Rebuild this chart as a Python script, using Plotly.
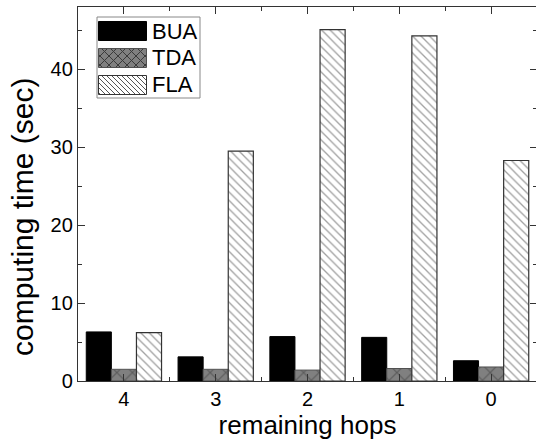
import plotly.graph_objects as go

# ---- data ----
hops = ["4", "3", "2", "1", "0"]
series_names = ["BUA", "TDA", "FLA"]
bua = [6.3, 3.1, 5.7, 5.6, 2.6]
tda = [1.5, 1.5, 1.4, 1.6, 1.8]
fla = [6.2, 29.5, 45.1, 44.3, 28.3]
y_ticks = [0, 10, 20, 30, 40]

# ---- layout geometry ----
# figure is 1px wider than the window so that the right frame line falls
# just outside the visible area, as in the reference
W, H = 537, 440
ML, MR, MT, MB = 78, 0, 7, 59
PW, PH = W - ML - MR, H - MT - MB
FONT = "Liberation Sans, Arial, sans-serif"


def px(x):
    return (x - ML) / PW


def py(y):
    return (H - MB - y) / PH


x_idx = list(range(len(hops)))

styles = {
    "BUA": dict(color="black", line=dict(color="black", width=1)),
    "TDA": dict(color="#808080", line=dict(color="#505050", width=1),
                pattern=dict(shape="x", size=11, solidity=0.2,
                             fgcolor="#333333", bgcolor="#808080")),
    "FLA": dict(color="white", line=dict(color="#333333", width=1.2),
                pattern=dict(shape="\\", size=6, solidity=0.22,
                             fgcolor="#444444", bgcolor="white")),
}

fig = go.Figure()
for name, vals in zip(series_names, [bua, tda, fla]):
    fig.add_trace(go.Bar(x=x_idx, y=vals, name=name, marker=styles[name],
                         showlegend=False))


def hatch(x0, y0, x1, y1, spacing, direction):
    segs = []
    if direction == "\\":
        c = y0 - x1
        while c <= y1 - x0:
            a = max(x0, y0 - c)
            b = min(x1, y1 - c)
            if b > a:
                segs.append(f"M{px(a)},{py(a + c)}L{px(b)},{py(b + c)}")
            c += spacing
    else:
        c = x0 + y0
        while c <= x1 + y1:
            a = max(x0, c - y1)
            b = min(x1, c - y0)
            if b > a:
                segs.append(f"M{px(a)},{py(c - a)}L{px(b)},{py(c - b)}")
            c += spacing
    return "".join(segs)


shapes = []
# legend box
shapes.append(dict(type="rect", xref="paper", yref="paper",
                   x0=px(97), x1=px(200), y0=py(98), y1=py(17),
                   line=dict(color="#888888", width=1), fillcolor="white"))
sw_x0, sw_x1 = 98.5, 146.5
sw_tops = [21.5, 48.5, 75.5]
sw_h = 19
annotations = []
for name, top in zip(series_names, sw_tops):
    bot = top + sw_h
    st = styles[name]
    shapes.append(dict(type="rect", xref="paper", yref="paper",
                       x0=px(sw_x0), x1=px(sw_x1), y0=py(bot), y1=py(top),
                       fillcolor=st["color"], line=dict(width=0)))
    if name == "TDA":
        for d in ["\\", "/"]:
            shapes.append(dict(type="path", xref="paper", yref="paper",
                               path=hatch(sw_x0, top, sw_x1, bot, 9, d),
                               line=dict(color="#3a3a3a", width=1)))
    if name == "FLA":
        shapes.append(dict(type="path", xref="paper", yref="paper",
                           path=hatch(sw_x0, top, sw_x1, bot, 5, "\\"),
                           line=dict(color="#555555", width=1)))
    shapes.append(dict(type="rect", xref="paper", yref="paper",
                       x0=px(sw_x0), x1=px(sw_x1), y0=py(bot), y1=py(top),
                       line=dict(color=st["line"]["color"], width=1)))
    annotations.append(dict(text=name, xref="paper", yref="paper",
                            x=px(150), y=py((top + bot) / 2),
                            xanchor="left", yanchor="middle", showarrow=False,
                            font=dict(family=FONT, size=22, color="black")))

annotations.append(dict(text="computing time (sec)", xref="paper", yref="paper",
                        x=px(22), y=py(217), textangle=-90,
                        xanchor="center", yanchor="middle", showarrow=False,
                        font=dict(family=FONT, size=30, color="black")))

fig.update_layout(
    width=W, height=H, autosize=False,
    margin=dict(l=ML, r=MR, t=MT, b=MB, pad=0),
    paper_bgcolor="white", plot_bgcolor="white",
    barmode="group", bargap=0.18, bargroupgap=0,
    font=dict(family=FONT, color="black"),
    shapes=shapes, annotations=annotations,
    showlegend=False,
)
fig.update_xaxes(
    range=[-0.5, 4.5], tickmode="array", tickvals=x_idx, ticktext=hops,
    ticks="inside", ticklen=7, tickwidth=1.3, tickcolor="#333",
    minor=dict(tickmode="linear", tick0=0.5, dtick=1, ticks="inside",
               ticklen=4, tickwidth=1.3, tickcolor="#333"),
    showline=True, linecolor="#333", linewidth=1.3, mirror="allticks",
    showgrid=False, zeroline=False,
    tickfont=dict(family=FONT, size=20, color="black"),
    title=dict(text="remaining hops", standoff=4,
               font=dict(family=FONT, size=26, color="black")),
)
fig.update_yaxes(
    range=[0, 48], tickmode="array", tickvals=y_ticks,
    ticks="inside", ticklen=7, tickwidth=1.3, tickcolor="#333",
    minor=dict(tickmode="linear", tick0=5, dtick=10, ticks="inside",
               ticklen=4, tickwidth=1.3, tickcolor="#333"),
    showline=True, linecolor="#333", linewidth=1.3, mirror="allticks",
    showgrid=False, zeroline=False,
    tickfont=dict(family=FONT, size=20, color="black"),
)

fig.write_html(
    "out.html",
    config={"displayModeBar": False},
    post_script="document.body.style.margin='0';document.body.style.overflow='hidden';",
)
